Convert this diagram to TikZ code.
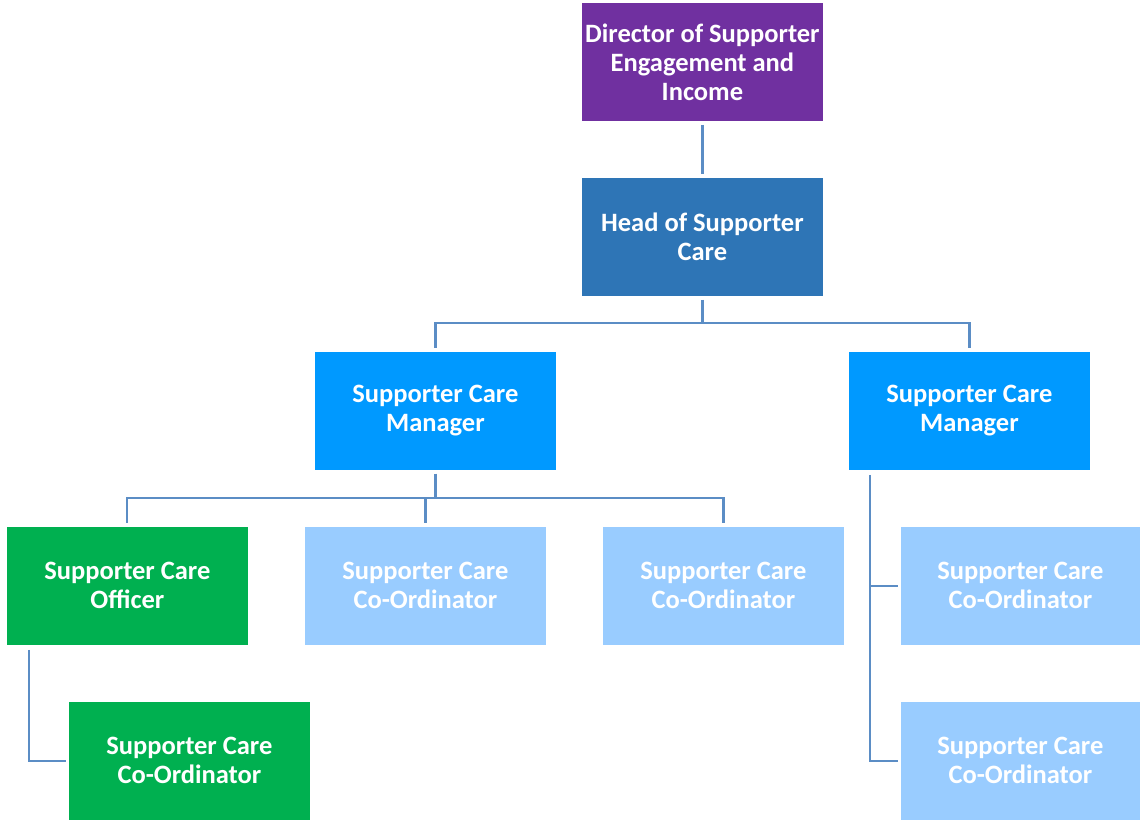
\documentclass[tikz,border=0pt]{standalone}
\usepackage{fontspec}
\setmainfont{Carlito}
\definecolor{cpurple}{HTML}{7030A0}
\definecolor{chead}{HTML}{2E75B6}
\definecolor{cmgr}{HTML}{0099FF}
\definecolor{cgreen}{HTML}{00B050}
\definecolor{clight}{HTML}{99CCFF}
\definecolor{cline}{HTML}{5B8DC5}
\begin{document}
\begin{tikzpicture}[x=1pt,y=-1pt,
  box/.style={draw=white, line width=0.8pt, minimum width=242pt, minimum height=119pt, inner sep=0pt,
    text=white, align=center, font=\fontsize{26.5}{29}\selectfont\bfseries, anchor=north west},
  conn/.style={draw=cline, line width=2.6pt}]
\useasboundingbox (0,0) rectangle (1140,821);
\node[box, fill=cpurple] (dir) at (581,2) {Director of Supporter\\Engagement and\\Income};
\node[box, fill=chead] (head) at (581,177) {Head of Supporter\\Care};
\node[box, fill=cmgr] (m1) at (314,351) {Supporter Care\\Manager};
\node[box, fill=cmgr] (m2) at (848,351) {Supporter Care\\Manager};
\node[box, fill=cgreen] (off) at (6,526) {Supporter Care\\Officer};
\node[box, fill=clight] (c1) at (304,526) {Supporter Care\\Co-Ordinator};
\node[box, fill=clight] (c2) at (602,526) {Supporter Care\\Co-Ordinator};
\node[box, fill=clight, minimum width=240pt] (c3) at (900,526) {Supporter Care\\Co-Ordinator};
\node[box, fill=clight, minimum width=240pt] (c4) at (900,701) {Supporter Care\\Co-Ordinator};
\node[box, fill=cgreen] (gc) at (68,701) {Supporter Care\\Co-Ordinator};
% connectors
\draw[conn] ([yshift=-3]dir.south) -- ([yshift=3]head.north);
\draw[conn] ([yshift=-3]head.south) -- ++(0,23) -| ([yshift=3]m1.north);
\draw[conn] ([yshift=-3]head.south) -- ++(0,23) -| ([yshift=3]m2.north);
\draw[conn] ([yshift=-3]m1.south) -- ++(0,24) -| ([xshift=-0.5,yshift=3]off.north);
\draw[conn] ([yshift=-3]m1.south) -- ++(0,24) -| ([yshift=3]c1.north);
\draw[conn] ([yshift=-3]m1.south) -- ++(0,24) -| ([yshift=3]c2.north);
\coordinate (rv) at ([xshift=22]m2.south west);
\draw[conn] ([yshift=-4]rv) |- ([xshift=-2]c4.west);
\draw[conn] (rv |- c3.west) -- ([xshift=-2]c3.west);
\coordinate (lv) at ([xshift=23]off.south west);
\draw[conn] ([yshift=-4]lv) |- ([xshift=-2]gc.west);
\end{tikzpicture}
\end{document}
